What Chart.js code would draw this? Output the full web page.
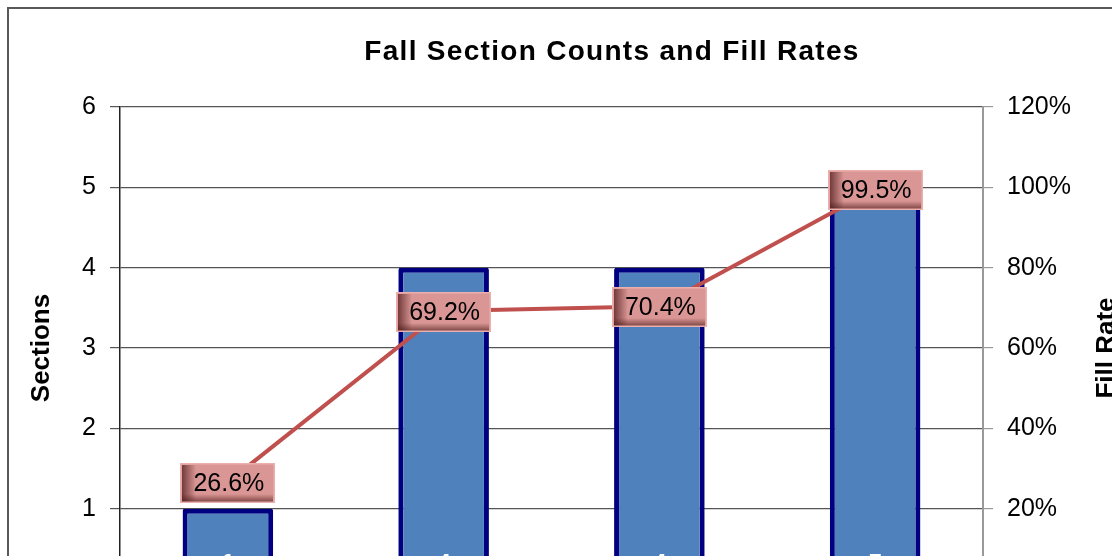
<!DOCTYPE html>
<html>
<head>
<meta charset="utf-8">
<script src="https://cdn.jsdelivr.net/npm/chart.js@4/dist/chart.umd.min.js"></script>
<style>
  html, body { margin: 0; padding: 0; background: #ffffff; overflow: hidden; width: 1112px; height: 556px; }
  #wrap { position: absolute; left: 0; top: 0; width: 1224px; height: 640px; }
</style>
</head>
<body>
<div id="wrap"><canvas id="c" width="1224" height="640"></canvas></div>
<script>
// ---- data ----
const categories = ['Term 1', 'Term 2', 'Term 3', 'Term 4'];
const sections = [1, 4, 4, 5];
const fillRates = [0.266, 0.692, 0.704, 0.995];
const sectionTicks = [0, 1, 2, 3, 4, 5, 6];
const rateTicks = [0, 0.2, 0.4, 0.6, 0.8, 1.0, 1.2];

const chartTitle = 'Fall Section Counts and Fill Rates';
const leftTitle = 'Sections';
const rightTitle = 'Fill Rate';

const FONT = '"Liberation Sans", Arial, sans-serif';

const decor = {
  id: 'decor',
  beforeDraw(chart) {
    const ctx = chart.ctx;
    ctx.save();
    ctx.fillStyle = '#ffffff';
    ctx.fillRect(0, 0, chart.width, chart.height);
    ctx.strokeStyle = '#595959';
    ctx.lineWidth = 2;
    ctx.strokeRect(8, 8, chart.width - 16, chart.height - 16);
    ctx.restore();
  },
  afterDraw(chart) {
    const ctx = chart.ctx;
    ctx.save();
    // title
    ctx.fillStyle = '#000';
    ctx.font = 'bold 28px ' + FONT;
    ctx.textAlign = 'center';
    ctx.textBaseline = 'alphabetic';
    try { ctx.letterSpacing = '1.3px'; } catch (e) {}
    ctx.fillText(chartTitle, 612, 60);
    try { ctx.letterSpacing = '0px'; } catch (e) {}
    // right axis title (reads bottom to top)
    const area = chart.chartArea;
    ctx.save();
    ctx.translate(1107, (area.top + area.bottom) / 2);
    ctx.rotate(-Math.PI / 2);
    ctx.font = 'bold 26px ' + FONT;
    ctx.textBaseline = 'middle';
    ctx.fillText(rightTitle, 0, 0);
    ctx.restore();

    // bar value labels (white, at base of bars)
    const barMeta = chart.getDatasetMeta(1);
    ctx.font = 'bold 26px ' + FONT;
    ctx.fillStyle = '#ffffff';
    ctx.textAlign = 'center';
    ctx.textBaseline = 'alphabetic';
    barMeta.data.forEach((bar, i) => {
      ctx.fillText(String(sections[i]), bar.x, bar.base - 16);
    });

    // line data labels (pink boxes)
    const lineMeta = chart.getDatasetMeta(0);
    lineMeta.data.forEach((pt, i) => {
      const w = 95, h = 40;
      const x0 = Math.round(pt.x - w / 2), y0 = Math.round(pt.y - h / 2 + 1);
      ctx.fillStyle = '#d99694';
      ctx.fillRect(x0, y0, w, h);
      // inner shading on left
      let g = ctx.createLinearGradient(x0, 0, x0 + 16, 0);
      g.addColorStop(0, 'rgba(70,20,20,0.8)');
      g.addColorStop(1, 'rgba(70,20,20,0)');
      ctx.fillStyle = g;
      ctx.fillRect(x0 + 2, y0 + 2, 16, h - 3);
      // inner shading on bottom
      g = ctx.createLinearGradient(0, y0 + h, 0, y0 + h - 9);
      g.addColorStop(0, 'rgba(70,20,20,0.7)');
      g.addColorStop(1, 'rgba(70,20,20,0)');
      ctx.fillStyle = g;
      ctx.fillRect(x0 + 2, y0 + h - 10, w - 4, 9);
      ctx.strokeStyle = 'rgba(235,175,172,1)';
      ctx.lineWidth = 1.5;
      ctx.strokeRect(x0 + 0.75, y0 + 0.75, w - 1.5, h - 1.5);
      ctx.fillStyle = '#000';
      ctx.font = '25px ' + FONT;
      ctx.textAlign = 'center';
      ctx.textBaseline = 'middle';
      ctx.fillText((fillRates[i] * 100).toFixed(1) + '%', pt.x + 1, y0 + h / 2 + 1);
    });
    ctx.restore();
  }
};

new Chart(document.getElementById('c'), {
  data: {
    labels: categories,
    datasets: [
      {
        type: 'line',
        label: 'Fill Rate',
        data: fillRates,
        yAxisID: 'y1',
        borderColor: '#c0504d',
        borderWidth: 4,
        pointRadius: 0,
        tension: 0,
        order: 0
      },
      {
        type: 'bar',
        label: 'Sections',
        data: sections,
        yAxisID: 'y',
        backgroundColor: '#4f81bd',
        borderColor: '#000080',
        borderWidth: 5,
        borderRadius: 2,
        borderSkipped: false,
        categoryPercentage: 1,
        barPercentage: 0.42,
        order: 1
      }
    ]
  },
  options: {
    responsive: false,
    animation: false,
    events: [],
    layout: { padding: { top: 107, bottom: 51, left: 0, right: 0 } },
    plugins: {
      legend: { display: false },
      tooltip: { enabled: false },
      title: { display: false }
    },
    scales: {
      x: {
        display: false,
        offset: true
      },
      y: {
        position: 'left',
        min: 0,
        max: 6,
        afterFit(s) { s.width = 120; },
        afterBuildTicks(s) { s.ticks = sectionTicks.map(v => ({ value: v })); },
        ticks: {
          color: '#000',
          font: { family: FONT, size: 25 },
          padding: 14
        },
        grid: {
          color: '#555555',
          lineWidth: 1.2,
          tickLength: 10,
          drawTicks: true
        },
        border: { color: '#222222', width: 1.5 },
        title: {
          display: true,
          text: leftTitle,
          color: '#000',
          font: { family: FONT, size: 26, weight: 'bold' },
          padding: { top: 26, bottom: 0 }
        }
      },
      y1: {
        position: 'right',
        min: 0,
        max: 1.2,
        afterFit(s) { s.width = 241; },
        afterBuildTicks(s) { s.ticks = rateTicks.map(v => ({ value: v })); },
        ticks: {
          color: '#000',
          font: { family: FONT, size: 25 },
          padding: 14,
          callback: v => Math.round(v * 100) + '%'
        },
        grid: {
          drawOnChartArea: false,
          color: '#999999',
          tickLength: 10,
          lineWidth: 1.2
        },
        border: { color: '#999999', width: 2 }
      }
    }
  },
  plugins: [decor]
});
</script>
</body>
</html>
